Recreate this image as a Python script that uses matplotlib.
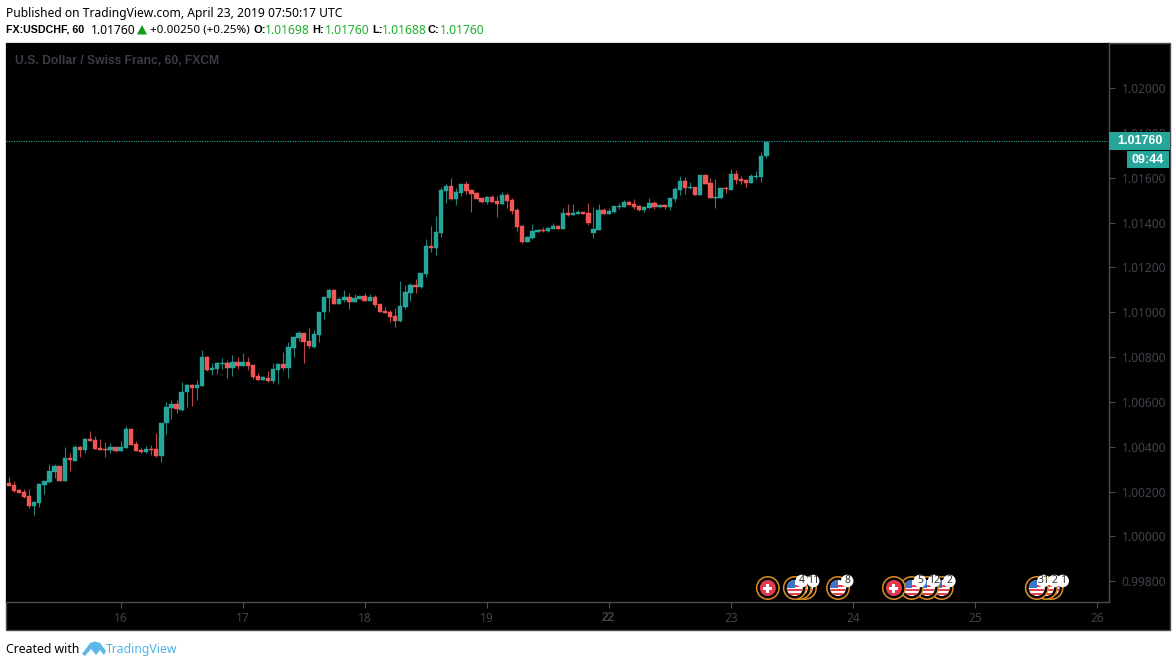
import numpy as np
import matplotlib
matplotlib.use('Agg')
import matplotlib.pyplot as plt
from matplotlib.patches import Circle, Rectangle, Polygon

plt.rcParams['font.family'] = ['Noto Sans', 'DejaVu Sans']

opens = [1.00238,1.00229,1.00207,1.00198,1.00180,1.00135,1.00150,1.00231,1.00242,1.00287,
1.00314,1.00247,1.00349,1.00336,1.00399,1.00385,1.00434,1.00430,1.00394,1.00390,
1.00385,1.00399,1.00381,1.00396,1.00480,1.00412,1.00385,1.00378,1.00390,1.00390,
1.00360,1.00506,1.00575,1.00590,1.00566,1.00644,1.00675,1.00663,1.00671,1.00799,
1.00742,1.00747,1.00769,1.00772,1.00751,1.00776,1.00760,1.00776,1.00763,1.00714,
1.00700,1.00709,1.00693,1.00742,1.00769,1.00751,1.00840,1.00883,1.00906,1.00870,
1.00846,1.00899,1.01000,1.01064,1.01098,1.01037,1.01053,1.01067,1.01045,1.01058,
1.01071,1.01049,1.01067,1.01036,1.01004,1.01000,1.00984,1.00960,1.01022,1.01085,
1.01122,1.01112,1.01171,1.01294,1.01287,1.01354,1.01541,1.01562,1.01504,1.01532,
1.01571,1.01544,1.01531,1.01508,1.01492,1.01513,1.01495,1.01483,1.01522,1.01500,
1.01455,1.01384,1.01312,1.01330,1.01358,1.01367,1.01361,1.01372,1.01384,1.01372,
1.01442,1.01434,1.01439,1.01446,1.01442,1.01352,1.01367,1.01456,1.01438,1.01447,
1.01468,1.01469,1.01492,1.01483,1.01472,1.01456,1.01465,1.01486,1.01469,1.01477,
1.01469,1.01505,1.01545,1.01585,1.01552,1.01557,1.01523,1.01612,1.01576,1.01508,
1.01509,1.01554,1.01545,1.01616,1.01593,1.01590,1.01576,1.01603,1.01603,1.01698]

highs = [1.00265,1.00247,1.00211,1.00211,1.00211,1.00159,1.00238,1.00247,1.00323,1.00323,
1.00314,1.00399,1.00373,1.00407,1.00404,1.00439,1.00470,1.00448,1.00434,1.00421,
1.00416,1.00399,1.00425,1.00494,1.00483,1.00425,1.00394,1.00404,1.00407,1.00461,
1.00506,1.00602,1.00608,1.00608,1.00687,1.00682,1.00678,1.00700,1.00831,1.00804,
1.00775,1.00778,1.00796,1.00787,1.00809,1.00800,1.00818,1.00800,1.00763,1.00729,
1.00715,1.00738,1.00773,1.00773,1.00822,1.00867,1.00888,1.00916,1.00906,1.00928,
1.00920,1.01000,1.01067,1.01103,1.01103,1.01067,1.01100,1.01085,1.01080,1.01071,
1.01085,1.01082,1.01076,1.01036,1.01022,1.01009,1.01019,1.01140,1.01122,1.01129,
1.01147,1.01174,1.01326,1.01385,1.01430,1.01558,1.01571,1.01598,1.01553,1.01571,
1.01584,1.01549,1.01535,1.01513,1.01517,1.01523,1.01517,1.01535,1.01531,1.01508,
1.01464,1.01388,1.01339,1.01393,1.01370,1.01381,1.01381,1.01397,1.01388,1.01464,
1.01483,1.01483,1.01455,1.01446,1.01488,1.01470,1.01483,1.01465,1.01465,1.01472,
1.01486,1.01500,1.01496,1.01505,1.01478,1.01474,1.01509,1.01496,1.01483,1.01483,
1.01508,1.01558,1.01607,1.01603,1.01581,1.01557,1.01612,1.01612,1.01599,1.01594,
1.01554,1.01563,1.01639,1.01634,1.01607,1.01594,1.01616,1.01630,1.01714,1.01760]

lows = [1.00226,1.00199,1.00193,1.00173,1.00128,1.00094,1.00131,1.00188,1.00238,1.00260,
1.00247,1.00247,1.00292,1.00336,1.00354,1.00372,1.00425,1.00390,1.00385,1.00354,
1.00372,1.00376,1.00381,1.00396,1.00407,1.00381,1.00372,1.00372,1.00363,1.00354,
1.00330,1.00459,1.00522,1.00550,1.00560,1.00578,1.00582,1.00608,1.00671,1.00739,
1.00720,1.00723,1.00747,1.00709,1.00715,1.00745,1.00760,1.00742,1.00703,1.00700,
1.00700,1.00690,1.00683,1.00680,1.00742,1.00705,1.00800,1.00871,1.00773,1.00840,
1.00840,1.00866,1.00969,1.01001,1.01037,1.01037,1.01045,1.01013,1.01045,1.01058,
1.01051,1.01049,1.01022,1.01000,1.00996,1.00955,1.00933,1.00955,1.01013,1.01049,
1.01085,1.01109,1.01156,1.01269,1.01256,1.01335,1.01486,1.01501,1.01477,1.01519,
1.01528,1.01448,1.01506,1.01488,1.01483,1.01492,1.01425,1.01483,1.01465,1.01437,
1.01363,1.01308,1.01312,1.01326,1.01358,1.01357,1.01357,1.01372,1.01372,1.01372,
1.01430,1.01434,1.01439,1.01439,1.01390,1.01330,1.01367,1.01438,1.01438,1.01442,
1.01460,1.01469,1.01478,1.01460,1.01451,1.01448,1.01465,1.01460,1.01465,1.01459,
1.01454,1.01490,1.01521,1.01526,1.01548,1.01523,1.01523,1.01573,1.01509,1.01465,
1.01509,1.01530,1.01545,1.01572,1.01572,1.01558,1.01576,1.01594,1.01581,1.01688]

closes = [1.00226,1.00202,1.00195,1.00177,1.00135,1.00152,1.00234,1.00247,1.00292,1.00314,
1.00247,1.00349,1.00339,1.00399,1.00387,1.00434,1.00425,1.00391,1.00385,1.00385,
1.00399,1.00381,1.00399,1.00480,1.00407,1.00381,1.00378,1.00390,1.00385,1.00360,
1.00506,1.00578,1.00590,1.00568,1.00645,1.00675,1.00663,1.00675,1.00799,1.00742,
1.00751,1.00772,1.00775,1.00751,1.00776,1.00760,1.00776,1.00760,1.00711,1.00700,
1.00711,1.00693,1.00745,1.00769,1.00751,1.00843,1.00888,1.00906,1.00867,1.00849,
1.00901,1.01000,1.01067,1.01098,1.01037,1.01058,1.01067,1.01046,1.01062,1.01071,
1.01051,1.01067,1.01033,1.01000,1.00996,1.00979,1.00960,1.01027,1.01089,1.01120,
1.01111,1.01174,1.01294,1.01287,1.01357,1.01544,1.01562,1.01504,1.01535,1.01571,
1.01541,1.01528,1.01506,1.01492,1.01513,1.01492,1.01483,1.01522,1.01495,1.01452,
1.01381,1.01312,1.01335,1.01361,1.01367,1.01361,1.01375,1.01384,1.01372,1.01442,
1.01434,1.01442,1.01446,1.01439,1.01399,1.01372,1.01455,1.01438,1.01450,1.01472,
1.01474,1.01492,1.01478,1.01469,1.01456,1.01468,1.01486,1.01469,1.01477,1.01468,
1.01508,1.01548,1.01585,1.01554,1.01560,1.01523,1.01612,1.01573,1.01509,1.01512,
1.01554,1.01548,1.01616,1.01590,1.01585,1.01576,1.01607,1.01607,1.01698,1.01760]

day_ticks = [22, 46, 70, 94, 118, 142, 166, 190, 214]
day_labels = ['16', '17', '18', '19', '22', '23', '24', '25', '26']
price_ticks = [0.998, 1.000, 1.002, 1.004, 1.006, 1.008, 1.010, 1.012, 1.014, 1.016, 1.018, 1.020]

swiss_events = [149.3, 174.1]
us_events = [154.6, 155.6, 156.6, 163.1, 177.6, 180.6, 183.5, 202.2, 204.0, 205.1]
badge_events = [156.0, 158.2, 164.9, 179.2, 182.0, 185.0, 203.5, 205.7, 207.3]
badge_labels = ['4', '11', '8', '5', '12', '2', '31', '2', '1']

UP = '#26a69a'
DOWN = '#f05656'
AXIS = '#4b4b55'
TICKTXT = '#42424c'
GREEN = '#1fae2f'
BOLD = 'Liberation Sans'

W, H = 1176, 667
fig = plt.figure(figsize=(W / 100, H / 100), dpi=100, facecolor='white')

# black panel behind the plot and both axis strips
bg = fig.add_axes([0, 0, 1, 1], zorder=0)
bg.set_xlim(0, W)
bg.set_ylim(H, 0)
bg.axis('off')
bg.add_patch(Rectangle((6, 43), 1164, 587, fc='black', ec=AXIS, lw=1.0))

ax = fig.add_axes([6 / W, (H - 602) / H, 1103 / W, 559 / H], zorder=1, facecolor='black')
x = np.arange(len(opens))
o, h, l, c = map(np.array, (opens, highs, lows, closes))
up = c >= o
colors = np.where(up, UP, DOWN)
ax.vlines(x, l, h, colors=colors, lw=0.8, alpha=0.8, zorder=2)
ax.bar(x, np.abs(c - o), bottom=np.minimum(o, c), width=0.86, color=colors, lw=0.3, edgecolor=colors, zorder=3)
ax.axhline(closes[-1] + 0.00002, color=UP, lw=0.8, ls=(0, (1, 1.2)), zorder=1)

ax.set_xlim(-0.55, 216.4)
ax.set_ylim(0.997079, 1.022007)
ax.yaxis.tick_right()
ax.set_yticks(price_ticks)
ax.set_yticklabels([f'{p:.5f}' for p in price_ticks])
ax.set_xticks(day_ticks)
ax.set_xticklabels(day_labels)
ax.tick_params(axis='both', colors=AXIS, labelcolor=TICKTXT, labelsize=8.6, length=4, width=0.8, pad=5)
ax.tick_params(axis='x', pad=3)
for name in ['top', 'left']:
    ax.spines[name].set_visible(False)
for name in ['bottom', 'right']:
    ax.spines[name].set_color(AXIS)
    ax.spines[name].set_linewidth(1.0)
ax.get_xticklabels()[4].set_fontfamily(BOLD)
ax.get_xticklabels()[4].set_fontweight('bold')

# overlay in pixel coordinates for header, tags and event icons
ov = fig.add_axes([0, 0, 1, 1], zorder=2)
ov.set_xlim(0, W)
ov.set_ylim(H, 0)
ov.axis('off')
ov.patch.set_alpha(0)


def to_px(i):
    px, _ = ax.transData.transform((i, closes[0]))
    return px


def txt(px, py, s, color='#000000', weight='normal', size=8.7, ha='left', zorder=3):
    family = BOLD if weight == 'bold' else 'Noto Sans'
    ov.text(px, py, s, color=color, fontweight=weight, fontsize=size, ha=ha, va='center',
            family=family, zorder=zorder)


txt(6, 13, 'Published on TradingView.com, April 23, 2019 07:50:17 UTC', size=8.7)
txt(6, 30, 'FX:USDCHF, 60', weight='bold', size=7.7)
txt(91, 30, '1.01760')
ov.add_patch(Polygon([[137, 34.5], [147, 34.5], [142, 25]], fc='#0f9d1e', ec='none'))
txt(150, 30, '+0.00250 (+0.25%)', size=8.35)
for lx, name, vx, val in [(253, 'O:', 265, '1.01698'), (312, 'H:', 325, '1.01760'),
                          (372, 'L:', 382, '1.01688'), (428, 'C:', 440, '1.01760')]:
    txt(lx, 30, name, weight='bold', size=8.0)
    txt(vx, 30, val, color=GREEN)
txt(15, 61, 'U.S. Dollar / Swiss Franc, 60, FXCM', color='#3c3c46', weight='bold', size=8.7)

# last price and countdown tags
ov.add_patch(Rectangle((1109, 132), 61, 18, fc=UP, ec='none'))
txt(1139.5, 141, '1.01760', color='white', weight='bold', size=9, ha='center')
ov.add_patch(Rectangle((1127, 151), 42, 17, fc=UP, ec='none'))
txt(1148, 160, '09:44', color='white', weight='bold', size=9, ha='center')

# events along the bottom, earlier icons sit on top of later ones
EY = 588


def flag_icon(cx, z):
    ov.add_patch(Circle((cx, EY), 11.2, fc='black', ec='#dd8f22', lw=1.1, zorder=z))
    disc = Circle((cx, EY), 8, fc='white', ec='none', zorder=z + 0.1)
    ov.add_patch(disc)
    for k in range(3):
        st = Rectangle((cx - 8, EY - 3.5 + k * 4), 16, 2.2, fc='#e2434b', ec='none', zorder=z + 0.2)
        ov.add_patch(st)
        st.set_clip_path(disc)
    canton = Rectangle((cx - 8, EY - 8), 8, 7.5, fc='#3f73c8', ec='none', zorder=z + 0.3)
    ov.add_patch(canton)
    canton.set_clip_path(disc)


def swiss_icon(cx, z):
    ov.add_patch(Circle((cx, EY), 11.2, fc='black', ec='#dd8f22', lw=1.1, zorder=z))
    ov.add_patch(Circle((cx, EY), 8, fc='#e8384f', ec='none', zorder=z + 0.1))
    ov.add_patch(Rectangle((cx - 4.5, EY - 1.5), 9, 3, fc='white', ec='none', zorder=z + 0.2))
    ov.add_patch(Rectangle((cx - 1.5, EY - 4.5), 3, 9, fc='white', ec='none', zorder=z + 0.2))


for n, i in enumerate(sorted(us_events, reverse=True)):
    flag_icon(to_px(i), 4 + n)
for n, i in enumerate(swiss_events):
    swiss_icon(to_px(i), 20 + n)
for i, s in zip(badge_events, badge_labels):
    cx = to_px(i)
    ov.add_patch(Circle((cx, 581), 6.3, fc='white', ec='none', zorder=30))
    ov.text(cx, 580.5, s, color='#333333', fontsize=7.5, ha='center', va='center', zorder=40)

# footer
txt(6, 649.5, 'Created with', size=8.8)
ov.add_patch(Polygon([[82, 654], [88, 646], [90, 643], [95, 641.5], [100, 643], [103, 647], [106, 651], [104, 655],
                      [100, 650], [96, 655], [91, 649], [85, 656]], fc='#5bb8e8', ec='none'))
txt(106, 649.5, 'TradingView', color='#4fb3e6', size=8.8)

fig.savefig('out.png', dpi=100, facecolor='white')
